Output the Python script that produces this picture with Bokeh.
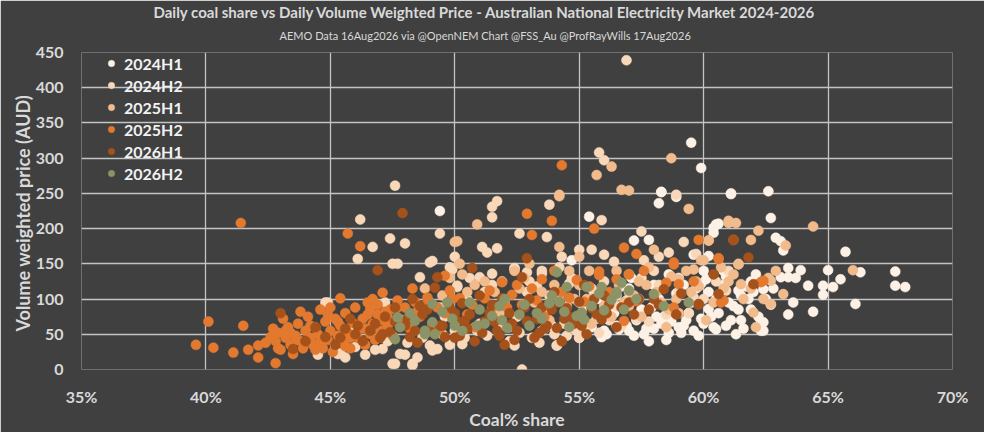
from bokeh.plotting import figure
from bokeh.models import Range1d, FixedTicker, PrintfTickFormatter, Title, Legend, LegendItem
from bokeh.embed import file_html
from bokeh.resources import INLINE

series_names = ["2024H1", "2024H2", "2025H1", "2025H2", "2026H1", "2026H2"]
series_colors = ["#FDF1E5", "#F9D8BA", "#F2BB8C", "#E2792F", "#A5511B", "#8C9467"]

x_2024H1 = [59.5, 59.9, 58.3, 61.1, 62.6, 58.3, 58.9, 58.2, 55.4, 57.2, 57.8, 60.4, 60.6, 60.2, 54.7, 49.4,
            61.1, 62.7, 60.5, 60.4, 62.9, 63.1, 63.2, 65.7, 63.4, 63.4, 63.1, 63.7, 63.9, 65.0, 66.3, 65.5,
            65.2, 64.8, 64.2, 64.8, 67.7, 67.7, 68.1, 66.1, 63.4, 64.4, 62.4, 62.4, 62.1, 60.8, 60.5, 54.1,
            55.9, 59.6, 62.4, 62.7, 62.3, 62.3, 61.4,
            55.5, 56.0, 56.5, 57.0, 57.3, 57.6, 58.0, 58.3, 58.6, 59.0, 59.3, 59.6, 60.0, 60.3, 60.6, 60.9,
            61.2, 61.5, 61.8, 56.2, 56.8, 57.5, 58.2, 58.8, 59.5, 60.2, 60.8, 61.5, 57.0, 58.0, 59.0, 60.0,
            61.0, 62.0, 55.2, 55.8, 56.5, 54.5, 53.5, 57.8, 58.5, 59.8, 61.3, 60.2, 55.0, 56.6, 58.4, 59.2,
            55.3, 55.7, 56.1, 56.4, 56.9, 57.2, 57.7, 58.1, 58.7, 59.1, 59.4, 59.9, 60.4, 60.7, 61.1, 61.6,
            61.9, 62.2, 57.4, 58.9, 59.7, 60.5, 61.7, 56.3, 57.9, 59.2, 60.1, 61.4, 62.5, 55.6, 56.7, 58.6,
            54.8, 53.9, 57.1, 59.9, 60.9, 61.9, 62.8, 63.6]
y_2024H1 = [322, 286, 252, 250, 253, 252, 245, 236, 217, 183, 184, 201, 207, 161, 155, 225,
            249, 215, 206, 194, 187, 182, 169, 167, 144, 131, 131, 130, 141, 141, 138, 128,
            117, 119, 119, 106, 139, 119, 117, 93, 78, 82, 67, 55, 135, 140, 57, 34,
            46, 163, 114, 92, 66, 55, 85,
            60, 55, 62, 55, 70, 50, 58, 65, 52, 60, 70, 55, 65, 75, 80, 62,
            90, 70, 100, 75, 90, 85, 100, 85, 95, 110, 120, 105, 115, 120, 130, 140,
            95, 110, 90, 100, 105, 70, 55, 40, 42, 48, 50, 86, 45, 57, 75, 62,
            65, 72, 50, 80, 62, 48, 58, 75, 68, 52, 80, 72, 60, 98, 70, 58,
            85, 75, 100, 108, 115, 100, 118, 95, 88, 120, 128, 112, 100, 110, 118, 135,
            58, 62, 130, 122, 132, 125, 115, 95]

x_2024H2 = [56.9, 47.6, 55.8, 56.0, 46.2, 49.4, 46.7, 47.4, 48.0, 46.1, 47.7, 49.1, 50.0, 49.9, 48.6, 44.9,
            51.5, 51.7, 51.5, 52.6, 53.7, 51.1, 51.7, 51.3, 53.8, 55.9, 57.5, 54.3, 55.0, 55.5, 56.0, 57.6,
            58.2, 58.6, 59.2, 59.7, 56.4, 52.4, 53.5, 58.9,
            44.5, 45.4, 46.4, 47.6, 48.3, 48.0, 49.1, 45.3, 45.6, 47.1, 47.5, 48.3, 48.5, 47.8, 49.0, 49.3,
            49.5, 52.4, 50.3, 53.4, 52.7, 54.1, 54.5, 55.0,
            44.8, 47.2, 47.5, 49.0, 49.8, 50.1, 49.7, 49.4, 52.4, 53.5, 54.2, 50.1, 51.5, 51.0, 52.9, 50.5,
            51.5, 52.0, 53.0, 53.8, 54.7, 55.5, 56.0, 57.0, 57.5, 58.2, 59.0, 60.5, 61.0, 60.0, 56.5, 55.0,
            52.5, 51.0, 50.0, 58.0,
            46.0, 46.8, 47.3, 48.1, 48.7, 49.2, 49.8, 50.4, 50.9, 51.3, 51.8, 52.2, 52.6, 53.1, 53.6, 54.0,
            54.4, 54.9, 55.3, 55.8, 56.2, 56.7, 57.3, 57.8, 58.5, 59.4, 50.6, 51.9, 53.3, 54.6, 55.6, 56.9,
            58.1, 59.6, 60.9, 45.9, 47.9, 49.6, 51.2, 52.9]
y_2024H2 = [439, 261, 308, 297, 213, 193, 174, 186, 179, 157, 150, 154, 160, 142, 131, 95,
            231, 239, 216, 193, 188, 174, 172, 166, 234, 212, 196, 160, 170, 170, 163, 155,
            160, 166, 181, 164, 153, 144, 140, 248,
            21, 23, 21, 8, 6, 21, 27, 22, 17, 29, 8, 8, 17, 22, 34, 29,
            50, 34, 36, 38, 0, 34, 48, 45,
            95, 95, 150, 152, 145, 119, 93, 88, 143, 136, 145, 117, 136, 131, 110, 100,
            120, 85, 125, 105, 130, 115, 125, 110, 130, 120, 110, 125, 140, 100, 90, 95,
            75, 65, 55, 140,
            32, 28, 40, 38, 45, 60, 35, 45, 55, 48, 62, 40, 52, 45, 58, 50,
            65, 55, 60, 52, 70, 62, 72, 68, 78, 80, 130, 125, 118, 122, 110, 98,
            95, 102, 112, 60, 70, 75, 110, 138]

x_2025H1 = [56.3, 55.7, 58.7, 57.0, 54.2, 56.7, 54.2, 59.4, 50.0, 50.9, 50.1, 54.2, 60.2, 61.0, 61.0, 61.3,
            60.2, 61.9, 62.2, 64.4, 61.4, 60.0, 62.7, 62.7, 63.2, 66.0, 58.7, 59.0, 59.9, 61.4, 61.0, 61.5,
            62.6, 62.0,
            50.5, 51.2, 52.0, 52.8, 53.5, 54.0, 54.8, 55.4, 56.0, 56.6, 57.2, 57.8, 58.3, 59.0, 59.5, 60.1,
            60.8, 61.6, 62.1, 57.5, 58.5, 55.5, 53.8, 52.2, 49.5, 48.8, 50.2, 53.0, 56.5, 58.0, 55.0, 59.6,
            63.3, 51.8, 54.5, 57.0, 59.8,
            49.0, 49.8, 50.8, 51.6, 52.4, 53.2, 54.2, 55.0, 55.9, 56.3, 57.0, 57.7, 58.1, 58.9, 59.3, 60.4,
            61.2, 61.9, 62.4, 62.9, 50.3, 52.6, 54.6, 56.8, 59.7, 60.7, 53.6, 55.3, 57.4, 58.6]
y_2025H1 = [288, 276, 300, 254, 248, 255, 246, 228, 181, 206, 182, 174, 183, 211, 208, 208,
            183, 184, 197, 203, 150, 155, 126, 93, 107, 141, 132, 128, 155, 149, 125, 121,
            130, 81,
            110, 125, 95, 130, 110, 120, 100, 140, 90, 120, 105, 145, 95, 80, 110, 70,
            115, 100, 60, 75, 60, 65, 70, 60, 105, 115, 150, 150, 140, 170, 160, 142,
            176, 80, 90, 135, 118,
            95, 130, 120, 110, 140, 95, 105, 120, 110, 75, 90, 120, 110, 100, 140, 95,
            135, 115, 100, 140, 135, 115, 140, 95, 125, 145, 85, 100, 125, 85]

x_2025H2 = [39.6, 40.3, 40.1, 41.1, 41.5, 41.7, 42.1, 42.1, 42.8, 41.4, 42.6, 42.8, 42.9, 43.0, 43.2, 43.3,
            43.4, 43.5, 43.6, 43.7, 43.8, 43.9, 44.0, 44.1, 44.2, 44.3, 44.4, 44.5, 44.6, 44.7, 44.8, 44.9,
            45.0, 45.1, 45.2, 45.3, 45.4, 45.4, 45.5, 45.6, 45.7, 45.7, 45.8, 45.9, 46.0, 46.1, 46.2, 46.2,
            46.3, 46.4, 46.5, 46.6, 46.6, 46.7, 46.8, 46.9, 47.0, 47.1, 47.1, 47.3, 47.4, 47.5, 47.7, 47.8,
            48.0, 48.2, 48.5, 48.6, 48.9, 49.1, 49.6, 49.6, 49.9, 50.2, 50.5, 51.2, 51.5, 51.9, 52.3, 52.7,
            52.9, 53.1, 53.1, 53.9, 54.3, 54.3, 54.9, 55.6, 55.8, 55.8, 56.2, 56.8, 56.8, 57.3, 57.3, 58.8,
            58.8, 58.5, 59.0, 59.6, 59.8, 60.6, 60.7, 60.6, 60.8, 61.2, 62.3, 62.4, 57.0, 58.8,
            48.3, 50.8, 51.6, 52.5, 53.6, 54.0, 55.2, 53.5,
            42.4, 42.7, 43.1, 43.4, 43.8, 44.2, 44.6, 45.0, 45.3, 45.8, 46.1, 46.5, 46.9, 47.3, 47.7, 48.1,
            48.4, 48.8, 49.3, 49.8, 42.9, 43.6, 44.4, 45.6, 46.4, 47.2, 50.7, 51.4, 52.1, 53.3, 54.6, 55.4,
            56.5, 57.6, 49.4, 44.9, 43.2, 46.7]
y_2025H2 = [35, 31, 68, 24, 62, 28, 34, 17, 9, 208, 46, 40, 52, 28, 45, 60,
            35, 22, 48, 65, 40, 30, 55, 75, 45, 35, 60, 50, 85, 30, 68, 42,
            55, 25, 72, 48, 101, 62, 38, 80, 52, 193, 30, 66, 88, 45, 175, 58,
            72, 35, 95, 86, 50, 65, 42, 78, 55, 109, 70, 62, 85, 48, 98, 68,
            88, 58, 83, 75, 102, 65, 133, 80, 100, 101, 78, 101, 88, 124, 106, 92,
            221, 115, 191, 211, 110, 290, 127, 200, 134, 139, 110, 173, 69, 164, 97, 152,
            149, 123, 121, 125, 184, 158, 95, 157, 98, 184, 124, 126, 135, 88,
            115, 60, 70, 120, 75, 140, 96, 128,
            38, 58, 72, 52, 82, 62, 40, 88, 68, 45, 62, 78, 92, 74, 88, 72,
            96, 90, 88, 112, 30, 42, 28, 33, 58, 82, 92, 112, 88, 98, 102, 118,
            128, 140, 58, 78, 55, 100]

x_2026H1 = [43.0, 43.5, 44.0, 44.8, 45.2, 45.6, 46.0, 46.3, 46.8, 46.9, 47.2, 47.4, 47.9, 48.0, 48.2, 48.5,
            48.7, 49.0, 49.2, 49.3, 49.6, 50.0, 50.1, 50.3, 50.4, 50.7, 50.8, 51.1, 51.4, 51.7, 51.9, 52.0,
            52.3, 52.7, 52.9, 52.9, 53.2, 53.5, 53.9, 54.1, 54.3, 54.5, 54.8, 55.0, 55.3, 55.5, 55.9, 56.2,
            56.5, 57.2, 57.8, 58.4, 58.9, 59.8, 59.8, 60.4, 60.6, 61.2, 61.8, 62.0, 45.8, 47.0, 48.6, 50.0,
            51.0, 53.0, 54.0, 56.0, 57.0, 58.0, 55.2, 44.4, 47.6, 49.5, 51.6, 53.6, 55.7,
            45.4, 46.1, 46.6, 47.1, 47.6, 48.1, 48.4, 48.9, 49.4, 49.8, 50.2, 50.6, 51.2, 51.5, 51.8, 52.2,
            52.5, 52.8, 53.3, 53.7, 54.2, 54.6, 55.1, 55.6, 56.1, 56.7, 57.4, 58.2, 59.1, 50.5, 52.4, 53.4,
            54.4, 48.3]
y_2026H1 = [80, 29, 40, 46, 35, 58, 50, 40, 65, 141, 75, 53, 222, 62, 46, 38,
            78, 55, 116, 131, 46, 45, 69, 94, 69, 144, 40, 52, 80, 55, 101, 35,
            65, 131, 69, 158, 45, 88, 85, 59, 40, 87, 65, 96, 50, 87, 71, 92,
            60, 78, 85, 114, 78, 93, 92, 135, 107, 184, 159, 121, 72, 45, 90, 80,
            105, 100, 110, 105, 95, 100, 120, 60, 88, 62, 68, 58, 78,
            45, 62, 55, 50, 68, 72, 55, 85, 62, 88, 48, 78, 68, 92, 48, 80,
            55, 88, 72, 62, 95, 75, 62, 100, 80, 88, 100, 92, 108, 58, 42, 52,
            72, 100]

x_2026H2 = [47.7, 47.8, 47.6, 48.4, 48.8, 48.8, 49.1, 49.1, 49.2, 49.9, 50.3, 51.0, 51.5, 52.1, 52.6, 53.3,
            53.8, 54.1, 54.2, 54.5, 54.9, 55.1, 55.2, 55.3, 55.8, 56.3, 56.5, 56.5, 56.7, 56.8, 58.0, 58.4,
            59.4, 50.6, 52.0, 53.0, 51.8, 54.6, 57.3, 48.2,
            49.5, 50.0, 51.2, 51.9, 52.8, 53.5, 54.4, 55.5, 56.0, 57.0, 50.9, 53.9, 55.9, 49.7]
y_2026H2 = [74, 60, 43, 69, 55, 50, 93, 67, 50, 72, 55, 85, 76, 59, 78, 80,
            94, 138, 96, 117, 76, 81, 71, 117, 108, 99, 110, 107, 123, 85, 107, 90,
            95, 95, 100, 62, 90, 60, 100, 80,
            82, 62, 65, 70, 92, 72, 82, 90, 84, 112, 62, 105, 117, 95]

x_ticks = [35, 40, 45, 50, 55, 60, 65, 70]
y_ticks = [0, 50, 100, 150, 200, 250, 300, 350, 400, 450]

all_x = [x_2024H1, x_2024H2, x_2025H1, x_2025H2, x_2026H1, x_2026H2]
all_y = [y_2024H1, y_2024H2, y_2025H1, y_2025H2, y_2026H1, y_2026H2]

BG = "#404040"
TXT = "#D9D9D9"
FONT = "Lato"

p = figure(width=984, height=432, output_backend="svg", toolbar_location=None,
           x_range=Range1d(35, 70), y_range=Range1d(0, 450),
           background_fill_color=BG, border_fill_color=BG,
           min_border_left=81, min_border_right=32, min_border_top=52, min_border_bottom=61)
p.outline_line_color = None

p.add_layout(Title(text="AEMO Data 16Aug2026  via @OpenNEM Chart @FSS_Au @ProfRayWills 17Aug2026",
                   text_font=FONT, text_font_size="11px", text_font_style="normal",
                   text_color=TXT, align="left", offset=198, standoff=17,
                   vertical_align="top"), "above")
p.add_layout(Title(text="Daily coal share vs Daily Volume Weighted Price - Australian National Electricity Market 2024-2026",
                   text_font=FONT, text_font_size="15px", text_font_style="bold",
                   text_color=TXT, align="left", offset=72, standoff=0), "above")

renderers = []
for name, color, xs, ys in zip(series_names, series_colors, all_x, all_y):
    r = p.scatter(xs, ys, size=10, fill_color=color, line_color=color, line_width=0.5)
    renderers.append((name, r))

p.xaxis.ticker = FixedTicker(ticks=x_ticks)
p.yaxis.ticker = FixedTicker(ticks=y_ticks)
p.xaxis.formatter = PrintfTickFormatter(format="%d%%")
for ax in (p.xaxis[0], p.yaxis[0]):
    ax.axis_line_color = None
    ax.major_tick_line_color = None
    ax.minor_tick_line_color = None
    ax.major_label_text_font = FONT
    ax.major_label_text_font_size = "16px"
    ax.major_label_text_font_style = "bold"
    ax.major_label_text_color = TXT
    ax.axis_label_text_font = FONT
    ax.axis_label_text_font_style = "bold"
    ax.axis_label_text_color = TXT
p.xaxis.axis_label = "Coal% share"
p.yaxis.axis_label = "Volume  weighted price (AUD)"
p.xaxis.axis_label_text_font_size = "17.5px"
p.yaxis.axis_label_text_font_size = "18px"
p.xaxis.major_label_standoff = 11
p.yaxis.major_label_standoff = 12
p.xaxis.axis_label_standoff = 0
p.yaxis.axis_label_standoff = -1

p.xgrid.grid_line_color = "#C4C4C4"
p.ygrid.grid_line_color = "#C4C4C4"
p.xgrid.grid_line_width = 1.3
p.ygrid.grid_line_width = 1.3

legend = Legend(items=[LegendItem(label=n, renderers=[r]) for n, r in renderers],
                location=(22, 186), padding=2, spacing=2, margin=0,
                glyph_width=16, glyph_height=20, label_height=20, label_standoff=5,
                label_text_font=FONT, label_text_font_size="16px", label_text_font_style="bold",
                label_text_color="#F2F2F2", background_fill_alpha=0, border_line_color=None)
p.add_layout(legend)

open("out.html", "w").write(file_html(p, INLINE))
